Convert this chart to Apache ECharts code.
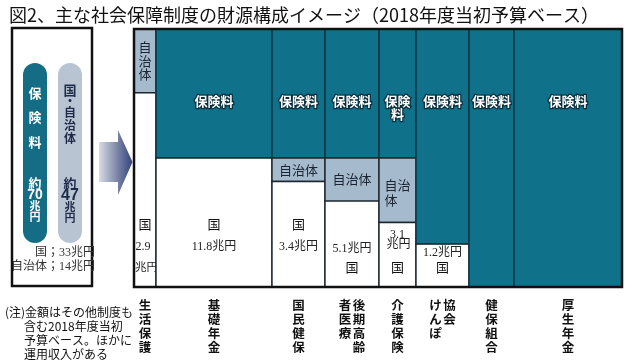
<!DOCTYPE html>
<html><head><meta charset="utf-8">
<script src="https://cdn.jsdelivr.net/npm/echarts@6/dist/echarts.min.js"></script>
<style>html,body{margin:0;padding:0;background:#fff}#c{width:634px;height:364px}</style>
</head><body><div id="c"></div>
<script>
// ---- data ----
const categories = ['生活保護','基礎年金','国民健保','後期高齢者医療','介護保険','協会けんぽ','健保組合','厚生年金'];
const categoryLabelCols = [['生活保護'],['基礎年金'],['国民健保'],['後期高齢','者医療'],['介護保険'],['協会','けんぽ'],['健保組合'],['厚生年金']];
const scaleSize = [22, 116, 53, 54, 37, 53, 45, 108];      // relative column width (size)
const hokenShare = [0, 50, 50, 50, 50, 83.4, 100, 100];    // % 保険料
const jichitaiShare = [24.7, 0, 9.1, 16.7, 25, 0, 0, 0];   // % 自治体
const kuniShare = [75.3, 50, 40.9, 33.3, 25, 16.6, 0, 0];  // % 国
const kuniAmount = ['2.9', '11.8', '3.4', '5.1', '3.1', '1.2', '', ''];
const totalHoken = 70, totalKouhi = 47, totalKuni = 33, totalJichitai = 14;
const titleText = '図2、主な社会保障制度の財源構成イメージ（2018年度当初予算ベース）';
const noteLines = ['(注)金額はその他制度も', '含む2018年度当初', '予算ベース。ほかに', '運用収入がある'];

// ---- styling ----
const JP = '"Noto Sans CJK JP", sans-serif';
const SERIF = '"Liberation Serif", "Noto Sans CJK JP", serif';
const TEAL = '#10718b', TEAL_LINE = '#0b3a48', LIGHT = '#a6bace', LINE = '#1c252c';
const G = {left: 134, top: 29, width: 488, height: 258};

const starts = [];
scaleSize.reduce((acc, v, i) => { starts[i] = acc; return acc + v; }, 0);
const totalSize = scaleSize.reduce((a, b) => a + b, 0);

function t(x, y, text, o) {
  return {type: 'text', x: x, y: y, style: Object.assign({text: text, align: 'center', verticalAlign: 'middle',
    fill: '#111', fontSize: 13, fontFamily: JP}, o || {})};
}
// vertical text: one element per character
function vtext(arr, x, yFirst, step, o) {
  return arr.split('').map((c, k) => t(x, yFirst + k * step, c, o));
}

function renderItem(params, api) {
  const i = api.value(0);
  const x0 = starts[i], x1 = x0 + scaleSize[i];
  const left = api.coord([x0, 100])[0], right = api.coord([x1, 100])[0];
  const yOf = v => api.coord([x0, v])[1];
  const w = right - left, cx = (left + right) / 2;
  const top = yOf(100), bottom = yOf(0);
  const h = hokenShare[i], j = jichitaiShare[i], k = kuniShare[i];
  let ch = [];
  // cells
  if (h > 0) ch.push({type: 'rect', shape: {x: left, y: yOf(100), width: w, height: yOf(100 - h) - yOf(100)},
    style: {fill: TEAL, stroke: TEAL_LINE, lineWidth: 1.6}});
  if (j > 0) ch.push({type: 'rect', shape: {x: left, y: yOf(100 - h), width: w, height: yOf(100 - h - j) - yOf(100 - h)},
    style: {fill: LIGHT, stroke: LINE, lineWidth: 1.4}});
  if (k > 0) ch.push({type: 'rect', shape: {x: left, y: yOf(k), width: w, height: bottom - yOf(k)},
    style: {fill: '#fff', stroke: LINE, lineWidth: 1.4}});
  // 保険料 label
  if (h > 0) {
    const hs = {fill: '#fff', fontWeight: 'bold', fontSize: 13, stroke: '#0a2f3c', lineWidth: 2.5};
    if (w < 40) {
      ch.push(t(cx, top + 72, '保険', hs));
      ch.push(t(cx, top + 85.5, '料', hs));
    } else {
      ch.push(t(cx, top + 72, '保険料', hs));
    }
  }
  // 自治体 label
  if (j > 0) {
    const jt = yOf(100 - h), jb = yOf(100 - h - j), jc = (jt + jb) / 2;
    const js = {fill: '#1b2533', fontSize: 13};
    if (w < 30) ch = ch.concat(vtext('自治体', cx, jc - 13.5, 13.5, js));
    else if (w < 45) { ch.push(t(cx, jc - 5, '自治', js)); ch.push(t(cx - 6.5, jc + 9.5, '体', js)); }
    else ch.push(t(cx, jc, '自治体', js));
  }
  // 国 labels
  if (k > 0) {
    const kt = yOf(k), khgt = bottom - kt;
    const amt = kuniAmount[i];
    const as = {fontSize: 12, fontFamily: SERIF, fill: '#222'};
    if (khgt > 90) {
      ch.push(t(cx, bottom - 63, '国', {fontSize: 13}));
      if (w < 30) {
        ch.push(t(left + 1.5, bottom - 40, amt, Object.assign({}, as, {align: 'left'})));
        ch.push(t(left + 1, bottom - 19, '兆円', Object.assign({}, as, {align: 'left', fontSize: 11.5})));
      } else {
        ch.push(t(cx, bottom - 40, amt + '兆円', as));
      }
    } else {
      ch.push(t(cx, bottom - 20, '国', {fontSize: 13}));
      if (w < 45) {
        ch.push(t(cx, kt + 12, amt, as));
        ch.push(t(cx + 1, kt + 22, '兆円', as));
      } else {
        ch.push(t(cx, Math.max(bottom - 38, kt + 9), amt + '兆円', as));
      }
    }
  }
  // category labels (vertical text below the box)
  const cols = categoryLabelCols[i];
  cols.forEach((c, ci) => {
    const off = cols.length === 1 ? 0 : (ci === 0 ? 7 : -7);
    ch = ch.concat(vtext(c, cx + off, bottom + 18, 14, {fontSize: 12.5, fontWeight: 'bold', fill: '#111'}));
  });
  return {type: 'group', children: ch};
}

const gfx = [];
// main box frame
gfx.push({type: 'rect', z: 100, shape: {x: G.left, y: G.top, width: G.width, height: G.height},
  style: {fill: 'none', stroke: '#111', lineWidth: 2.5}});
// left summary box
gfx.push({type: 'rect', z: 10, shape: {x: 12, y: 28, width: 80, height: 258}, style: {fill: '#fff', stroke: '#111', lineWidth: 2.5}});
gfx.push({type: 'rect', z: 11, shape: {x: 23, y: 63, width: 24, height: 180, r: 12}, style: {fill: '#146d84'}});
gfx.push({type: 'rect', z: 11, shape: {x: 58, y: 63, width: 24, height: 180, r: 12}, style: {fill: '#b9c4d3'}});
function gt(x, y, text, o) {
  return {type: 'text', z: 12, x: x, y: y, style: Object.assign({text: text, align: 'center', verticalAlign: 'middle',
    fill: '#fff', fontSize: 13, fontWeight: 'bold', fontFamily: JP}, o || {})};
}
const NUM = '"Liberation Sans", Arial, sans-serif';
['保', '険', '料'].forEach((c, k) => gfx.push(gt(35, 93 + k * 24.5, c)));
gfx.push(gt(35, 183, '約'));
gfx.push(gt(35, 195, String(totalHoken), {fontSize: 14, fontFamily: NUM}));
gfx.push(gt(35, 206, '兆', {fontSize: 11}));
gfx.push(gt(35, 217, '円', {fontSize: 11}));
const DK = '#1d2b48';
gfx.push(gt(70, 90, '国', {fill: DK, fontSize: 13}));
gfx.push(gt(70, 101, '・', {fill: DK, fontSize: 12}));
['自', '治', '体'].forEach((c, k) => gfx.push(gt(70, 112.5 + k * 13.2, c, {fill: DK, fontSize: 12})));
gfx.push(gt(70, 183, '約', {fill: DK, fontSize: 13}));
gfx.push(gt(70, 196, String(totalKouhi), {fill: DK, fontSize: 16, fontFamily: NUM}));
gfx.push(gt(70, 207, '兆', {fill: DK, fontSize: 11}));
gfx.push(gt(70, 218, '円', {fill: DK, fontSize: 11}));
gfx.push(gt(95, 253, '国；' + totalKuni + '兆円', {align: 'right', fill: '#333', fontSize: 12, fontWeight: 'normal', fontFamily: SERIF}));
gfx.push(gt(95, 267, '自治体；' + totalJichitai + '兆円', {align: 'right', fill: '#333', fontSize: 12, fontWeight: 'normal', fontFamily: SERIF}));
// arrow
gfx.push({type: 'polygon', z: 5, shape: {points: [[99, 142], [118, 142], [118, 130], [132.5, 162], [118, 195], [118, 182], [99, 182]]},
  style: {fill: {type: 'linear', x: 0, y: 0, x2: 1, y2: 0, colorStops: [{offset: 0, color: '#d9dce4'}, {offset: 0.55, color: '#7a84a6'}, {offset: 1, color: '#34427a'}]}}});
// note
noteLines.forEach((s, idx) => {
  gfx.push({type: 'text', z: 12, x: idx === 0 ? 5 : 24, y: 312 + idx * 14.2, style: {text: s, align: 'left', verticalAlign: 'middle',
    fill: '#111', fontSize: 12, fontFamily: JP}});
});

const chart = echarts.init(document.getElementById('c'), null, {renderer: 'canvas'});
chart.setOption({
  animation: false,
  backgroundColor: '#fff',
  title: {text: titleText, left: 4, top: 1, textStyle: {fontSize: 18, fontWeight: 'normal', color: '#111', fontFamily: JP}},
  grid: {left: G.left, top: G.top, width: G.width, height: G.height, show: false},
  xAxis: {type: 'value', min: 0, max: totalSize, show: false},
  yAxis: {type: 'value', min: 0, max: 100, show: false},
  series: [{
    type: 'custom',
    renderItem: renderItem,
    data: categories.map((c, i) => [i, scaleSize[i], c]),
    encode: {x: 1, y: 0},
    clip: false
  }],
  graphic: gfx
});
</script></body></html>
